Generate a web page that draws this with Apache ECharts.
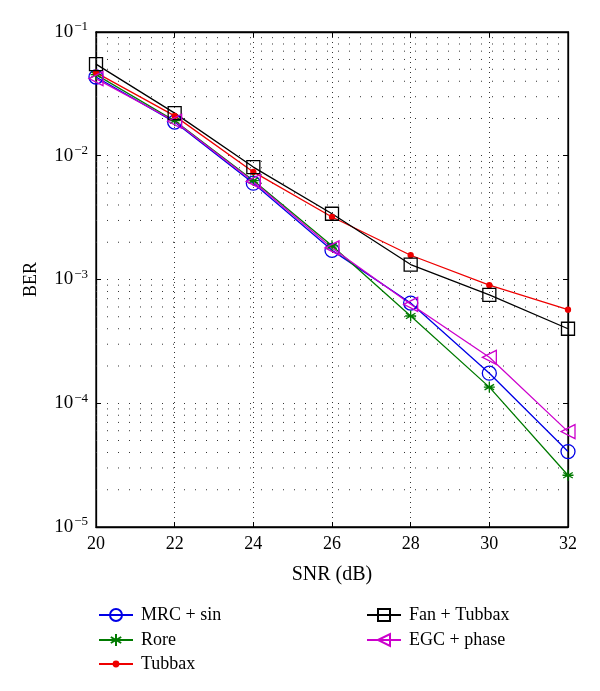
<!DOCTYPE html>
<html><head><meta charset="utf-8">
<script src="https://cdn.jsdelivr.net/npm/echarts@6/dist/echarts.min.js"></script>
<style>html,body{margin:0;padding:0;background:#fff}#c{width:600px;height:691px}</style>
</head><body><div id="c"></div>
<script>
const snr = [20, 22, 24, 26, 28, 30, 32];
const mrcSin = [0.0433, 0.0187, 0.0060, 0.00172, 0.000645, 0.000175, 0.0000407];
const rore = [0.0452, 0.0192, 0.0063, 0.00187, 0.000507, 0.000135, 0.0000262];
const tubbax = [0.0470, 0.0210, 0.0074, 0.00320, 0.00157, 0.00090, 0.00057];
const fanTubbax = [0.0550, 0.0221, 0.0081, 0.00340, 0.00132, 0.00075, 0.00040];
const egcPhase = [0.0420, 0.0190, 0.0062, 0.00180, 0.00063, 0.000235, 0.0000590];
const seriesNames = ['MRC + sin', 'Rore', 'Tubbax', 'Fan + Tubbax', 'EGC + phase'];
const xTicks = [20, 22, 24, 26, 28, 30, 32];
const yMin = 1e-5, yMax = 1e-1;

const minorVals = [];
for (let e = -5; e <= -2; e++) for (let k = 2; k <= 9; k++) minorVals.push(k * Math.pow(10, e));

const pairs = arr => snr.map((x, i) => [x, arr[i]]);
const font = 'Liberation Serif';
const lw = 1.3;

const mk = (name, arr, color, symbol, size, fill) => ({
  name, type: 'line', data: pairs(arr), symbol, symbolSize: size,
  lineStyle: { color, width: lw }, itemStyle: { color: fill, borderColor: color, borderWidth: lw },
  emphasis: { disabled: true }, z: 3
});

const minorSeries = minorVals.map((v, i) => ({
  name: 'grid' + i, type: 'line', data: [[xTicks[0], v], [xTicks[xTicks.length - 1], v]],
  symbol: 'none', silent: true, z: 1,
  lineStyle: { color: '#333', type: [1, 10], width: 1 }
}));

const legendText = { fontFamily: font, fontSize: 18, color: '#000', padding: [0, 0, 0, 3] };
const leg = (name, left, center, h) => ({
  orient: 'vertical', left, top: center - 8, padding: 0, itemWidth: 34, itemHeight: h,
  data: [name], textStyle: legendText
});

const chart = echarts.init(document.getElementById('c'), null, { renderer: 'canvas' });
chart.setOption({
  animation: false,
  backgroundColor: '#fff',
  grid: { left: 96, right: 32, top: 32, bottom: 164, show: true, borderColor: '#000', borderWidth: 1.3 },
  xAxis: [{
    type: 'value', min: 20, max: 32, interval: 2, name: 'SNR (dB)', nameLocation: 'middle', nameGap: 38,
    nameTextStyle: { fontFamily: font, fontSize: 20, color: '#000' },
    axisLine: { lineStyle: { color: '#000', width: 1.3 } },
    axisTick: { inside: true, length: 5, lineStyle: { color: '#000' } },
    axisLabel: { fontFamily: font, fontSize: 18, color: '#000', margin: 8 },
    splitLine: { show: true, lineStyle: { color: '#333', type: [1, 4], width: 1 } }
  }, {
    type: 'value', min: 20, max: 32, interval: 2, position: 'top',
    axisLine: { lineStyle: { color: '#000', width: 1.3 } },
    axisTick: { inside: true, length: 5, lineStyle: { color: '#000' } },
    axisLabel: { show: false }, splitLine: { show: false }
  }],
  yAxis: [{
    type: 'log', logBase: 10, min: yMin, max: yMax, name: 'BER', nameLocation: 'middle', nameGap: 56,
    nameTextStyle: { fontFamily: font, fontSize: 18, color: '#000' },
    axisLine: { lineStyle: { color: '#000', width: 1.3 } },
    axisTick: { inside: true, length: 5, lineStyle: { color: '#000' } },
    axisLabel: {
      fontFamily: font, fontSize: 18, color: '#000', margin: 8,
      formatter: v => '{b|10}{s|' + '\u2212' + Math.round(-Math.log10(v)) + '}',
      rich: { b: { fontFamily: font, fontSize: 19, color: '#000' }, s: { fontFamily: font, fontSize: 13, color: '#000', verticalAlign: 'top', padding: [0, 0, 10, 1] } }
    },
    splitLine: { show: true, lineStyle: { color: '#333', type: [1, 10], width: 1 } }
  }, {
    type: 'log', logBase: 10, min: yMin, max: yMax, position: 'right',
    axisLine: { lineStyle: { color: '#000', width: 1.3 } },
    axisTick: { inside: true, length: 5, lineStyle: { color: '#000' } },
    axisLabel: { show: false }, splitLine: { show: false }
  }],
  legend: [
    leg(seriesNames[0], 98, 614, 15),
    leg(seriesNames[1], 98, 639, 15),
    leg(seriesNames[2], 98, 663, 6),
    leg(seriesNames[3], 366, 614, 15),
    leg(seriesNames[4], 366, 639, 15)
  ],
  series: minorSeries.concat([
    mk(seriesNames[0], mrcSin, '#0000e6', 'circle', 14, 'transparent'),
    mk(seriesNames[1], rore, '#007a00', 'path://M0,-6L0,6M-5.2,-3L5.2,3M-5.2,3L5.2,-3M-6,0L6,0', 11, '#007a00'),
    mk(seriesNames[2], tubbax, '#ee0000', 'circle', 5, '#ee0000'),
    mk(seriesNames[3], fanTubbax, '#000000', 'rect', 13, 'transparent'),
    mk(seriesNames[4], egcPhase, '#cc00cc', 'path://M0,5L10,0L10,10Z', 14, 'transparent')
  ])
});
</script></body></html>
